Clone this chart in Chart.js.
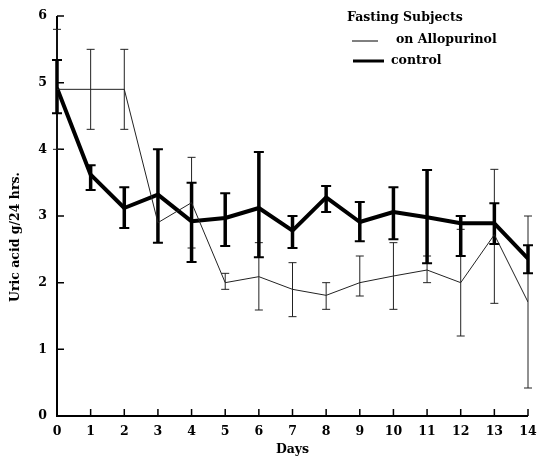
<!DOCTYPE html>
<html>
<head>
<meta charset="utf-8">
<script src="https://cdn.jsdelivr.net/npm/chart.js@4/dist/chart.umd.min.js"></script>
<style>
  html, body { margin: 0; padding: 0; background: #fff; }
  #wrap { width: 539px; height: 456px; position: relative; }
</style>
</head>
<body>
<div id="wrap"><canvas id="chart"></canvas></div>
<script>
'use strict';

/* ── Data ── */
const days = [0, 1, 2, 3, 4, 5, 6, 7, 8, 9, 10, 11, 12, 13, 14];
const yTicks = [0, 1, 2, 3, 4, 5, 6];

// control (thick line)
const controlMean = [4.92, 3.62, 3.12, 3.32, 2.92, 2.97, 3.12, 2.78, 3.28, 2.91, 3.06, 2.98, 2.89, 2.89, 2.36];
const controlLow  = [4.54, 3.39, 2.82, 2.60, 2.31, 2.55, 2.38, 2.52, 3.06, 2.62, 2.65, 2.29, 2.40, 2.58, 2.14];
const controlHigh = [5.34, 3.76, 3.43, 4.00, 3.50, 3.34, 3.96, 3.00, 3.45, 3.21, 3.43, 3.69, 3.00, 3.19, 2.56];

// on Allopurinol (thin line)
const alloMean = [4.90, 4.90, 4.90, 2.90, 3.20, 2.00, 2.09, 1.90, 1.81, 2.00, 2.10, 2.19, 2.00, 2.72, 1.71];
const alloLow  = [4.00, 4.30, 4.30, null, 2.52, 1.90, 1.59, 1.49, 1.60, 1.80, 1.60, 2.00, 1.20, 1.69, 0.42];
const alloHigh = [5.80, 5.50, 5.50, null, 3.88, 2.14, 2.60, 2.30, 2.00, 2.40, 2.60, 2.40, 2.80, 3.70, 3.00];

const FONT = "'DejaVu Serif', serif";

/* ── Error bars, drawn through the chart's scales ── */
const errorBars = {
    id: 'errorBars',
    beforeDatasetsDraw(chart) {
        const { ctx, scales: { x, y } } = chart;
        const sets = [
            { low: alloLow, high: alloHigh, width: 1, cap: 4, color: '#222' },
            { low: controlLow, high: controlHigh, width: 3.5, cap: 5, color: '#000' },
        ];
        ctx.save();
        sets.forEach(s => {
            ctx.strokeStyle = s.color;
            days.forEach((d, i) => {
                if (s.low[i] == null) return;
                const px = x.getPixelForValue(d);
                const top = y.getPixelForValue(s.high[i]);
                const bot = y.getPixelForValue(s.low[i]);
                ctx.lineWidth = s.width;
                ctx.beginPath();
                ctx.moveTo(px, top); ctx.lineTo(px, bot);
                ctx.stroke();
                ctx.lineWidth = Math.min(s.width, 2);
                ctx.beginPath();
                ctx.moveTo(px - s.cap, top); ctx.lineTo(px + s.cap, top);
                ctx.moveTo(px - s.cap, bot); ctx.lineTo(px + s.cap, bot);
                ctx.stroke();
            });
        });
        ctx.restore();
    },
};

/* ── Axes with inward tick marks ── */
const axesLines = {
    id: 'axesLines',
    beforeDatasetsDraw(chart) {
        const { ctx, chartArea: a, scales: { x, y } } = chart;
        ctx.save();
        ctx.strokeStyle = '#000';
        ctx.lineWidth = 2;
        ctx.beginPath();
        ctx.moveTo(a.left, a.top); ctx.lineTo(a.left, a.bottom); ctx.lineTo(a.right, a.bottom);
        ctx.stroke();
        ctx.lineWidth = 1.5;
        ctx.beginPath();
        yTicks.forEach(v => {
            if (v === 0) return;
            const py = y.getPixelForValue(v);
            ctx.moveTo(a.left, py); ctx.lineTo(a.left + 7, py);
        });
        days.forEach(d => {
            if (d === 0) return;
            const px = x.getPixelForValue(d);
            ctx.moveTo(px, a.bottom); ctx.lineTo(px, a.bottom - 7);
        });
        ctx.stroke();
        ctx.restore();
    },
};

/* ── Legend and y-axis caption ── */
const legendBox = {
    id: 'legendBox',
    afterDraw(chart) {
        const { ctx } = chart;
        ctx.save();
        ctx.fillStyle = '#000';
        ctx.strokeStyle = '#000';
        ctx.font = `bold 12.5px ${FONT}`;
        ctx.textBaseline = 'middle';
        ctx.textAlign = 'left';
        ctx.fillText('Fasting Subjects', 347, 18);
        ctx.fillText('on Allopurinol', 396, 40);
        ctx.fillText('control', 391, 61);
        ctx.lineWidth = 1;
        ctx.beginPath(); ctx.moveTo(352, 41); ctx.lineTo(378, 41); ctx.stroke();
        ctx.lineWidth = 3;
        ctx.beginPath(); ctx.moveTo(353, 61); ctx.lineTo(384, 61); ctx.stroke();

        // y caption, sitting a little below the axis middle as in the print
        ctx.translate(16, 237);
        ctx.rotate(-Math.PI / 2);
        ctx.textAlign = 'center';
        ctx.font = `bold 12.5px ${FONT}`;
        ctx.fillText('Uric acid g/24 hrs.', 0, 0);
        ctx.restore();
    },
};

new Chart(document.getElementById('chart'), {
    type: 'line',
    data: {
        labels: days,
        datasets: [
            {
                label: 'on Allopurinol',
                data: days.map((d, i) => ({ x: d, y: alloMean[i] })),
                borderColor: '#222',
                borderWidth: 1,
                pointRadius: 0,
                tension: 0,
            },
            {
                label: 'control',
                data: days.map((d, i) => ({ x: d, y: controlMean[i] })),
                borderColor: '#000',
                borderWidth: 4,
                pointRadius: 0,
                tension: 0,
                borderJoinStyle: 'round',
            },
        ],
    },
    options: {
        responsive: true,
        maintainAspectRatio: false,
        animation: false,
        layout: { padding: { top: 16, right: 11, left: 0, bottom: 0 } },
        plugins: {
            legend: { display: false },
            tooltip: { enabled: false },
        },
        scales: {
            x: {
                type: 'linear',
                min: 0, max: 14,
                afterFit: s => { s.height = 40; s.paddingLeft = 0; s.paddingRight = 0; },
                grid: { display: false, drawTicks: false },
                border: { display: false },
                ticks: {
                    stepSize: 1, padding: 8, color: '#000',
                    font: { family: FONT, size: 12.5, weight: 'bold' },
                },
                title: {
                    display: true, text: 'Days', color: '#000',
                    padding: { top: 0, bottom: -1 },
                    font: { family: FONT, size: 12.5, weight: 'bold' },
                },
            },
            y: {
                min: 0, max: 6,
                afterFit: s => { s.width = 57; s.paddingTop = 0; s.paddingBottom = 0; },
                grid: { display: false, drawTicks: false },
                border: { display: false },
                ticks: {
                    stepSize: 1, padding: 10, color: '#000',
                    font: { family: FONT, size: 12.5, weight: 'bold' },
                },
            },
        },
    },
    plugins: [axesLines, errorBars, legendBox],
});
</script>
</body>
</html>
